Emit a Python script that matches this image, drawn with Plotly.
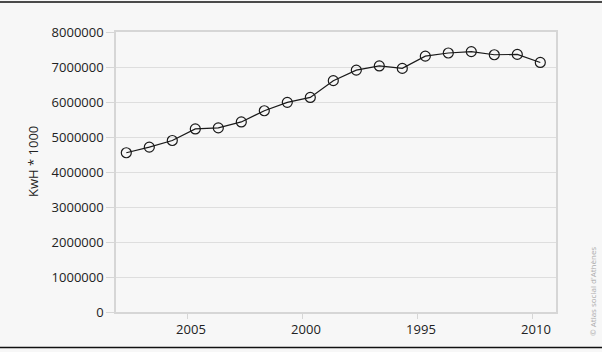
import plotly.graph_objects as go

# ---- data ----
x_index = list(range(19))
values = [4550000, 4710000, 4900000, 5230000, 5260000, 5430000, 5750000, 5990000,
          6130000, 6610000, 6910000, 7030000, 6960000, 7310000, 7400000, 7440000,
          7350000, 7360000, 7130000]
tick_positions = [2.68, 7.68, 12.68, 17.68]
tick_labels = ["2005", "2000", "1995", "2010"]
y_ticks = [0, 1000000, 2000000, 3000000, 4000000, 5000000, 6000000, 7000000, 8000000]
y_title = "KwH * 1000"
credit = "© Atlas social d'Athènes"

W, H = 602, 352
L, R, T, B = 116, 46, 32, 40
pw, ph = W - L - R, H - T - B

def px_x(p):
    return (p - L) / pw

def px_y(p):
    return 1 - (p - T) / ph

BG = "#f7f7f7"
FONT = "Open Sans"

fig = go.Figure()
fig.add_trace(go.Scatter(
    x=x_index, y=values, mode="lines+markers",
    line=dict(color="#1a1a1a", width=1.2),
    marker=dict(symbol="circle-open", size=10, color="#1a1a1a", line=dict(width=1.2)),
    hoverinfo="skip", showlegend=False,
))

fig.update_layout(
    width=W, height=H,
    margin=dict(l=L, r=R, t=T, b=B, pad=0),
    paper_bgcolor=BG, plot_bgcolor=BG,
    font=dict(family=FONT, size=13, color="#222"),
    showlegend=False,
    xaxis=dict(
        range=[(L - 126.3) / 23, (L + pw - 126.3) / 23],
        tickmode="array", tickvals=tick_positions, ticktext=tick_labels,
        showgrid=False, zeroline=False,
        showline=True, linecolor="#d6d6d6", linewidth=1.5, mirror=True,
        ticks="outside", ticklen=5, tickcolor="#d6d6d6", tickwidth=1,
        ticklabelshift=3,
        tickfont=dict(family=FONT, size=13, color="#222"),
    ),
    yaxis=dict(
        range=[0, 8000000],
        tickmode="array", tickvals=y_ticks, ticktext=[str(v) for v in y_ticks],
        showgrid=True, gridcolor="#dedede", gridwidth=1, zeroline=False,
        showline=True, linecolor="#d6d6d6", linewidth=1.5, mirror=True,
        ticks="outside", ticklen=8, tickcolor="#d6d6d6", tickwidth=1,
        tickfont=dict(family=FONT, size=13, color="#222"),
    ),
    shapes=[
        dict(type="line", xref="paper", yref="paper", x0=px_x(0), x1=px_x(W),
             y0=px_y(2), y1=px_y(2), line=dict(color="#111", width=1.3)),
        dict(type="line", xref="paper", yref="paper", x0=px_x(0), x1=px_x(W),
             y0=px_y(347.5), y1=px_y(347.5), line=dict(color="#111", width=1.3)),
    ],
    annotations=[
        dict(text=y_title, xref="paper", yref="paper", x=px_x(33), y=px_y(162),
             showarrow=False, textangle=-90, xanchor="center", yanchor="middle",
             font=dict(family=FONT, size=13, color="#222")),
        dict(text=credit, xref="paper", yref="paper", x=px_x(592), y=px_y(292),
             showarrow=False, textangle=-90, xanchor="center", yanchor="middle",
             font=dict(family=FONT, size=8, color="#aaaaaa")),
    ],
)

fig.write_html("out.html")
